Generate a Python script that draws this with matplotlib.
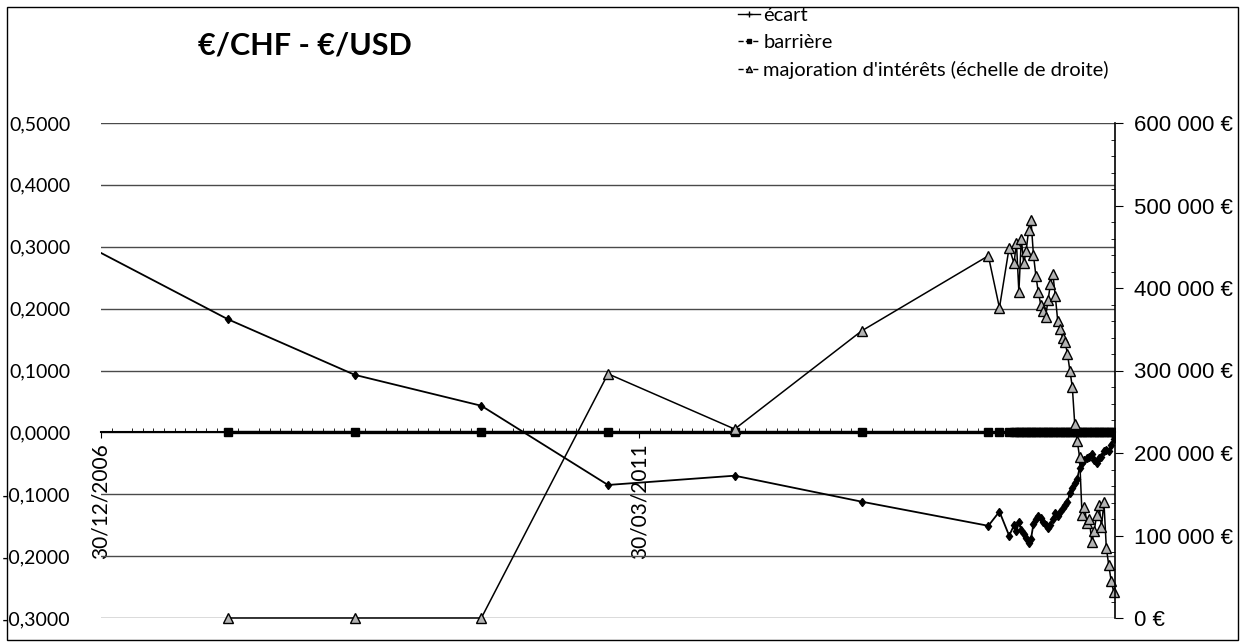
import numpy as np
import pandas as pd
import matplotlib
matplotlib.use('Agg')
import matplotlib.pyplot as plt
import matplotlib.dates as mdates
import matplotlib.ticker as mticker
from matplotlib.lines import Line2D
from matplotlib.patches import Rectangle

plt.rcParams['font.family'] = ['Lato', 'DejaVu Sans']

##########
## Data ##
##########

# year-end points, then two month-end points, then weekly points in 2014
year_dates = ['2006-12-30', '2007-12-30', '2008-12-30', '2009-12-30',
              '2010-12-30', '2011-12-30', '2012-12-30', '2013-12-30']
month_dates = ['2014-01-31', '2014-02-28']
week_start, n_weeks = '2014-03-14', 42

ecart_years = [0.290, 0.183, 0.093, 0.043, -0.085, -0.070, -0.112, -0.151]
ecart_months = [-0.128, -0.167]
ecart_weeks = [-0.150, -0.160, -0.145, -0.158, -0.165, -0.170, -0.178, -0.172, -0.148, -0.140,
               -0.135, -0.138, -0.145, -0.150, -0.155, -0.150, -0.140, -0.131, -0.135, -0.128,
               -0.122, -0.118, -0.112, -0.098, -0.090, -0.082, -0.075, -0.058, -0.050, -0.045,
               -0.042, -0.040, -0.035, -0.045, -0.050, -0.042, -0.040, -0.030, -0.028, -0.030,
               -0.020, -0.010]

barriere_years = [np.nan, 0, 0, 0, 0, 0, 0, 0]
barriere_months = [0, 0]
barriere_weeks = [0, 0, 0, 0, 0, 0, 0, 0, 0, 0,
                  0, 0, 0, 0, 0, 0, 0, 0, 0, 0,
                  0, 0, 0, 0, 0, 0, 0, 0, 0, 0,
                  0, 0, 0, 0, 0, 0, 0, 0, 0, 0,
                  0, 0]

# euros
majoration_years = [np.nan, 0, 0, 0, 296000, 229000, 348000, 439000]
majoration_months = [376000, 449000]
majoration_weeks = [430000, 455000, 395000, 460000, 430000, 445000, 470000, 482000, 440000, 415000,
                    395000, 380000, 372000, 365000, 385000, 405000, 417000, 390000, 360000, 350000,
                    340000, 335000, 320000, 300000, 280000, 235000, 215000, 195000, 125000, 135000,
                    115000, 120000, 92000, 105000, 125000, 137000, 110000, 141000, 85000, 64000,
                    45000, 32000]

xtick_dates = ['2006-12-30', '2011-03-30']
xtick_labels = ['30/12/2006', '30/03/2011']

dates = pd.to_datetime(year_dates + month_dates).append(
    pd.date_range(week_start, periods=n_weeks, freq='7D'))
ecart = np.array(ecart_years + ecart_months + ecart_weeks, dtype=float)
barriere = np.array(barriere_years + barriere_months + barriere_weeks, dtype=float)
majoration = np.array(majoration_years + majoration_months + majoration_weeks, dtype=float)

############
## Canvas ##
############

W, H = 1244, 644
fig = plt.figure(figsize=(W / 100, H / 100), dpi=100)
ax = fig.add_axes([101 / W, 26 / H, 1014 / W, 495 / H])
ax2 = ax.twinx()

ax.set_xlim(pd.Timestamp('2006-12-30'), pd.Timestamp('2014-12-30'))
ax.set_ylim(-0.3, 0.5)
ax2.set_ylim(0, 600000)

## left axis
ax.yaxis.set_major_locator(mticker.MultipleLocator(0.1))
def fmt_left(v, pos):
    if abs(v) < 1e-9:
        v = 0.0
    return ('%.4f' % v).replace('.', ',')
ax.yaxis.set_major_formatter(mticker.FuncFormatter(fmt_left))
ax.tick_params(axis='y', length=0, pad=22, labelsize=14)
ax.grid(axis='y', color='#4a4a4a', lw=1)
ax.set_axisbelow(True)

## date axis crossing at 0
for s in ['top', 'left', 'right']:
    ax.spines[s].set_visible(False)
ax.spines['bottom'].set_position(('data', 0))
ax.spines['bottom'].set_linewidth(1.5)
ax.set_xticks(pd.to_datetime(xtick_dates))
ax.set_xticklabels(xtick_labels, rotation=90, ha='center', va='top', fontsize=15)
ax.xaxis.set_minor_locator(mdates.MonthLocator(bymonthday=30))
ax.tick_params(axis='x', which='major', length=4, pad=4)
ax.tick_params(axis='x', which='minor', length=3, direction='in')

## right axis
for s in ['top', 'left', 'bottom']:
    ax2.spines[s].set_visible(False)
ax2.spines['right'].set_linewidth(1.2)
ax2.yaxis.set_major_locator(mticker.MultipleLocator(100000))
ax2.yaxis.set_minor_locator(mticker.MultipleLocator(20000))
ax2.yaxis.set_major_formatter(mticker.FuncFormatter(
    lambda v, pos: '{:,}'.format(int(round(v))).replace(',', ' ') + ' €'))
ax2.tick_params(axis='y', which='major', length=6, pad=8, labelsize=16)
ax2.tick_params(axis='y', which='minor', length=3, direction='in')
for t in ax2.get_yticklabels():
    t.set_family(['Liberation Sans', 'DejaVu Sans'])

############
## Series ##
############

ax.plot(dates, ecart, color='black', lw=1.3, marker='d', ms=4.5,
        markevery=list(range(1, len(dates))))
ax.plot(dates, barriere, color='black', lw=2.4, marker='s', ms=6)
ax2.plot(dates, majoration, color='black', lw=1.1, marker='^', ms=6.5,
         mfc='#b3b3b3', mec='black', mew=1.0, clip_on=False)

############
## Labels ##
############

fig.text(305 / W, 1 - 45 / H, '€/CHF - €/USD', ha='center', va='center',
         fontsize=22, fontweight='bold')

handles = [
    Line2D([], [], color='black', lw=1, marker='+', ms=5),
    Line2D([], [], color='black', lw=1, ls='--', marker='s', ms=3.5),
    Line2D([], [], color='black', lw=1, ls='--', marker='^', ms=4, mfc='#b3b3b3'),
]
labels = ['écart', 'barrière', "majoration d'intérêts (échelle de droite)"]
fig.legend(handles, labels, loc='upper left', bbox_to_anchor=(738 / W, 1 - 7 / H),
           frameon=False, fontsize=14.5, handlelength=1.1, handletextpad=0.15,
           labelspacing=0.5, borderaxespad=0, borderpad=0)

fig.patches.append(Rectangle((7 / W, 4 / H), 1231 / W, 633 / H, transform=fig.transFigure,
                             fill=False, ec='black', lw=1))

fig.savefig('out.png', dpi=100)
